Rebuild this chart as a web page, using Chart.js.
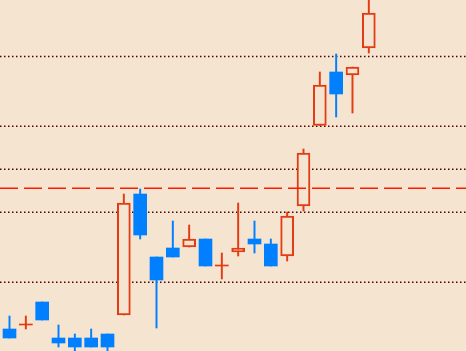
<!DOCTYPE html>
<html>
<head>
<meta charset="utf-8">
<script src="https://cdn.jsdelivr.net/npm/chart.js@4.4.1/dist/chart.umd.min.js"></script>
<style>
  html, body { margin: 0; padding: 0; background: #f5e4d0; }
  #chart { display: block; background: #f5e4d0; }
</style>
</head>
<body>
<canvas id="chart" width="466" height="351"></canvas>
<script>
// Candle values (price units)
var opens  = [22, 26, 49, 13, 13, 13, 17, 36, 157, 94, 103, 104, 112, 85, 99, 112, 107, 95, 145, 225.5, 279, 276, 303];
var highs  = [35, 35, 49, 26, 17, 22, 17, 157, 162, 94, 130, 126, 112, 98, 148, 130, 112, 139, 202, 279, 297, 284, 354];
var lows   = [13, 22, 31, 4, -2, 4, -2, 36, 112, 23, 94, 104, 85, 72, 95, 98, 85, 90, 140, 225.5, 234, 238, 298];
var closes = [13, 26, 31, 8, 4, 4, 4, 148, 116, 71, 94, 112, 85, 85, 103, 107, 85, 135, 198, 266, 257, 284, 338];

// Horizontal levels
var dottedLevels = [294.5, 224.7, 181.7, 138.7, 68.7];
var dashedLevel = 162.7;

var X_MIN = -0.582, X_MAX = 27.95;
var BG = '#f5e4d0';
var UP = '#e23c14';
var DOWN = '#0080ff';

window.onload = () => {
   renderCandleChart();
};

function candleColor(i) {
   if (closes[i] < opens[i]) return DOWN;
   return UP;
}

function renderCandleChart() {
   var ctx = document.getElementById('chart').getContext('2d');

   var bodies = opens.map((o, i) => ({ x: i, y: [o, closes[i]] }));
   var wicks = opens.map((o, i) => ({ x: i, y: [lows[i], highs[i]] }));

   // dotted levels start at the left edge so the dots stay crisp
   var levelSets = dottedLevels.map(v => ({
      type: 'line',
      data: [{ x: X_MIN, y: v }, { x: X_MAX + 1, y: v }],
      borderColor: '#500000',
      borderWidth: 1.5,
      borderDash: [1.5, 2.5],
      pointRadius: 0,
      order: 3
   }));

   new Chart(ctx, {
      type: 'bar',
      data: {
         datasets: [
            {
               type: 'line',
               data: [{ x: X_MIN, y: dashedLevel }, { x: X_MAX + 1, y: dashedLevel }],
               borderColor: '#ff1a00',
               borderWidth: 1.6,
               borderDash: [18, 6],
               pointRadius: 0,
               order: 0
            },
            {
               data: bodies,
               grouped: false,
               barThickness: 13,
               minBarLength: 1,
               borderSkipped: false,
               backgroundColor: bodies.map((b, i) => closes[i] > opens[i] ? BG : candleColor(i)),
               borderColor: bodies.map((b, i) => closes[i] > opens[i] ? UP : 'rgba(0,0,0,0)'),
               borderWidth: bodies.map((b, i) => closes[i] > opens[i] ? 2 : 0),
               order: 1
            },
            {
               data: wicks,
               grouped: false,
               barThickness: 1.3,
               borderSkipped: false,
               backgroundColor: wicks.map((w, i) => candleColor(i)),
               borderWidth: 0,
               order: 2
            }
         ].concat(levelSets)
      },
      options: {
         responsive: false,
         animation: false,
         layout: { padding: 0 },
         plugins: {
            legend: { display: false },
            tooltip: { enabled: false }
         },
         scales: {
            x: {
               type: 'linear',
               display: false,
               min: X_MIN,
               max: X_MAX,
               offset: false
            },
            y: {
               type: 'linear',
               display: false,
               min: 0,
               max: 351
            }
         }
      }
   });
}
</script>
</body>
</html>
